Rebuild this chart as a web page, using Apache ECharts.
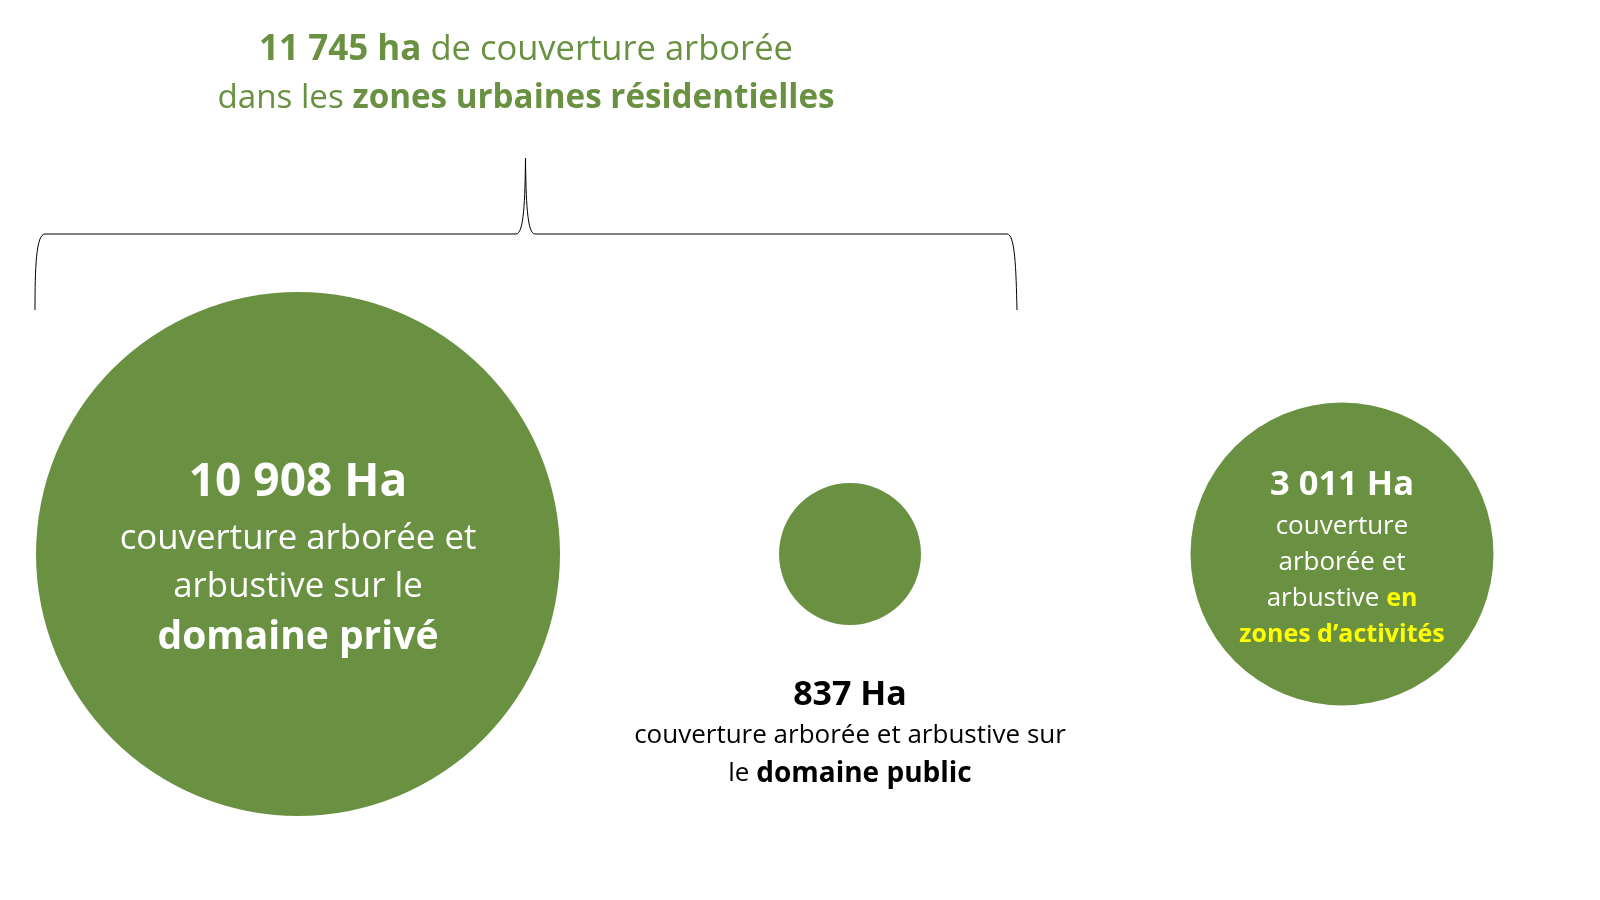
<!DOCTYPE html>
<html>
<head>
<meta charset="utf-8">
<script src="https://cdn.jsdelivr.net/npm/echarts@6/dist/echarts.min.js"></script>
<style>
html,body{margin:0;padding:0;background:#fff;}
#chart{width:1600px;height:900px;}
</style>
</head>
<body>
<div id="chart"></div>
<script>
// ---- data ----
const categories = ['domaine privé', 'domaine public', "zones d'activités"];
const values = [10908, 837, 3011];
const totalResidential = 11745;
const unit = 'Ha';

// ---- styling / layout (not data) ----
const GREEN = '#699141';
const FONT = '"Open Sans", sans-serif';
const circleDiam = [524, 142, 303];
const circleCenterX = [298, 850, 1342];
const circleCenterY = 554;
const labelShiftY = [4, 2, 3.5];

function fmt(v) {
  return String(v).replace(/\B(?=(\d{3})+(?!\d))/g, ' ');
}

const labels = [
  {
    position: 'inside',
    formatter: p => `{h|${fmt(p.value[2])} ${unit}}\n{n|couverture arborée et}\n{n|arbustive sur le}\n{b|${p.name}}`,
    rich: {
      h: {fontFamily: FONT, fontWeight: 'bold', fontSize: 46, color: '#fff', lineHeight: 64},
      n: {fontFamily: FONT, fontSize: 34.8, color: '#fff', lineHeight: 48},
      b: {fontFamily: FONT, fontWeight: 'bold', fontSize: 39, color: '#fff', lineHeight: 54}
    }
  },
  {
    position: 'bottom',
    distance: 46,
    formatter: p => `{h|${fmt(p.value[2])} ${unit}}\n{n|couverture arborée et arbustive sur}\n{n|le }{b|${p.name}}`,
    rich: {
      h: {fontFamily: FONT, fontWeight: 'bold', fontSize: 34, color: '#000', lineHeight: 44},
      n: {fontFamily: FONT, fontSize: 26, color: '#000', lineHeight: 38},
      b: {fontFamily: FONT, fontWeight: 'bold', fontSize: 28, color: '#000', lineHeight: 38}
    }
  },
  {
    position: 'inside',
    formatter: p => `{h|${fmt(p.value[2])} ${unit}}\n{n|couverture}\n{n|arborée et}\n{n|arbustive }{y|en}\n{y|${p.name.replace("'", '’')}}`,
    rich: {
      h: {fontFamily: FONT, fontWeight: 'bold', fontSize: 34.5, color: '#fff', lineHeight: 47},
      n: {fontFamily: FONT, fontSize: 26, color: '#fff', lineHeight: 36},
      y: {fontFamily: FONT, fontWeight: 'bold', fontSize: 25, color: '#ffff00', lineHeight: 36}
    }
  }
];

const grids = [], xAxes = [], yAxes = [], series = [];
categories.forEach((c, i) => {
  const w = 200;
  grids.push({left: circleCenterX[i] - w / 2, width: w, top: circleCenterY - 100, height: 200});
  xAxes.push({type: 'category', gridIndex: i, data: [c], show: false});
  yAxes.push({type: 'category', gridIndex: i, data: ['v'], show: false});
  series.push({
    type: 'scatter',
    xAxisIndex: i,
    yAxisIndex: i,
    symbol: 'circle',
    symbolSize: circleDiam[i],
    itemStyle: {color: GREEN, opacity: 1},
    emphasis: {disabled: true},
    silent: true,
    label: Object.assign({show: true}, labels[i]),
    labelLayout: {dy: labelShiftY[i]},
    data: [{name: c, value: [0, 0, values[i]]}]
  });
});

const lineStyle = {fill: 'none', stroke: '#000', lineWidth: 1};
const brace = [
  {type: 'bezierCurve', shape: {x1: 35, y1: 310, cpx1: 35, cpy1: 268, cpx2: 36, cpy2: 234, x2: 45, y2: 234}},
  {type: 'line', shape: {x1: 45, y1: 234, x2: 516, y2: 234}},
  {type: 'bezierCurve', shape: {x1: 516, y1: 234, cpx1: 524, cpy1: 234, cpx2: 525, cpy2: 200, x2: 525.5, y2: 158}},
  {type: 'bezierCurve', shape: {x1: 525.5, y1: 158, cpx1: 526, cpy1: 200, cpx2: 527, cpy2: 234, x2: 535, y2: 234}},
  {type: 'line', shape: {x1: 535, y1: 234, x2: 1007, y2: 234}},
  {type: 'bezierCurve', shape: {x1: 1007, y1: 234, cpx1: 1015, cpy1: 234, cpx2: 1016, cpy2: 268, x2: 1017, y2: 310}}
].map(g => Object.assign(g, {style: lineStyle, silent: true}));

const chart = echarts.init(document.getElementById('chart'), null, {renderer: 'canvas'});
chart.setOption({
  animation: false,
  backgroundColor: '#fff',
  grid: grids,
  xAxis: xAxes,
  yAxis: yAxes,
  series: series,
  graphic: [
    {
      type: 'text',
      x: 526,
      y: 74.5,
      style: {
        text: `{b1|${fmt(totalResidential)} ha}{n1| de couverture arborée}\n{n2|dans les }{b2|zones urbaines résidentielles}`,
        align: 'center',
        verticalAlign: 'middle',
        rich: {
          b1: {fontFamily: FONT, fontWeight: 'bold', fontSize: 35, fill: GREEN, lineHeight: 48},
          n1: {fontFamily: FONT, fontSize: 34.5, fill: GREEN, lineHeight: 48},
          b2: {fontFamily: FONT, fontWeight: 'bold', fontSize: 33.2, fill: GREEN, lineHeight: 48},
          n2: {fontFamily: FONT, fontSize: 33.2, fill: GREEN, lineHeight: 48}
        }
      }
    }
  ].concat(brace)
});
</script>
</body>
</html>
